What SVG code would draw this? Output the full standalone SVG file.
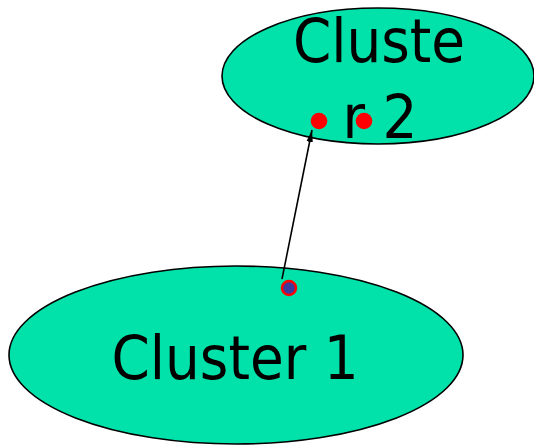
<svg xmlns="http://www.w3.org/2000/svg" width="534" height="446" viewBox="0 0 534 446">
  <style>
    .node { fill: #00e2aa; stroke: #000; stroke-width: 1.6; }
    .label { font-family: "DejaVu Sans Condensed", "DejaVu Sans", sans-serif; font-stretch: condensed; font-size: 61px; fill: #000; text-anchor: middle; }
    .port { fill: #ff0000; }
    .edge { fill: none; stroke: #000; stroke-width: 1.6; }
  </style>
  <defs>
    <marker id="arrow" viewBox="0 0 12 8" refX="12" refY="4" markerWidth="12" markerHeight="8" markerUnits="userSpaceOnUse" orient="auto">
      <path d="M0,0.8 L12,4 L0,7.2 Z" fill="#000"/>
    </marker>
  </defs>
  <rect width="534" height="446" fill="#fff"/>

  <g id="cluster2">
    <ellipse class="node" cx="378" cy="76" rx="156" ry="68"/>
    <text class="label" x="379" y="62">Cluste</text>
    <text class="label" x="380" y="138">r 2</text>
    <circle class="port" cx="319" cy="121" r="8.3"/>
    <circle class="port" cx="364" cy="121" r="8.3"/>
  </g>

  <g id="cluster1">
    <ellipse class="node" cx="236" cy="355" rx="227" ry="89"/>
    <text class="label" x="235" y="379">Cluster 1</text>
    <circle cx="289" cy="288" r="7" fill="#3a3a9e" stroke="#ff0000" stroke-width="2.5"/>
  </g>

  <g id="connectors">
    <line class="edge" x1="282" y1="279" x2="312" y2="130" marker-end="url(#arrow)"/>
  </g>
</svg>
